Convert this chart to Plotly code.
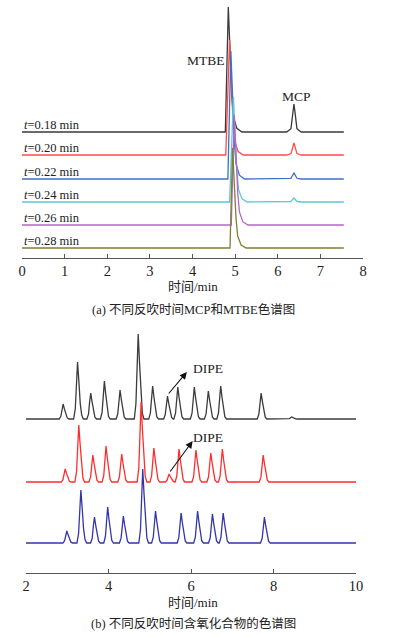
import plotly.graph_objects as go

FONT = "Liberation Serif, Times New Roman, Noto Sans CJK SC, serif"

# ---------------- (a) MCP / MTBE chromatograms ----------------
a_labels = ["0.18", "0.20", "0.22", "0.24", "0.26", "0.28"]
a_offsets = [116, 93, 69, 46, 23, 0]
a_colors = ["#3a3a3a", "#ff4a4a", "#3f6fc6", "#5cc8d8", "#b766c6", "#7f7f33"]
a_mtbe_start = [4.77, 4.78, 4.83, 4.87, 4.91, 4.88]
a_mtbe_apex = [4.84, 4.87, 4.90, 4.96, 4.98, 4.94]
a_mtbe_height = [125, 115, 128, 105, 110, 100]
a_mcp_time = [6.38, 6.38, 6.38, 6.38, 6.38, 6.38]
a_mcp_height = [28, 12, 6, 4, 0.6, 0]
a_x_end = 7.55
a_ticks = [0, 1, 2, 3, 4, 5, 6, 7, 8]

# ---------------- (b) oxygenates chromatograms ----------------
b_labels = ["0.26", "0.28", "0.30"]
b_offsets = [124, 61, 0]
b_colors = ["#3c3c3c", "#ff2d2d", "#3535a8"]
b_peak_t = [
    [2.90, 3.25, 3.57, 3.90, 4.28, 4.72, 5.07, 5.43, 5.68, 6.08, 6.42, 6.72, 7.70, 8.44],
    [2.95, 3.28, 3.62, 3.94, 4.32, 4.79, 5.10, 5.47, 5.71, 6.12, 6.48, 6.76, 7.75],
    [2.99, 3.33, 3.66, 3.98, 4.36, 4.83, 5.14, 5.76, 6.16, 6.52, 6.78, 7.78],
]
b_peak_h = [
    [15, 57, 26, 38, 29, 85, 33, 23, 32, 32, 28, 33, 26, 2],
    [13, 57, 27, 36, 28, 80, 34, 8, 33, 32, 29, 33, 27],
    [12, 53, 26, 36, 27, 74, 32, 30, 32, 29, 30, 26],
]
b_dipe_index = [7, 7]  # DIPE peak index in traces 0.26 and 0.28
b_x_start = 2.0
b_x_end = 10.0
b_ticks = [2, 4, 6, 8, 10]


def mtbe_peak(start, apex, h):
    dx = [0, 0.08, 0.12, 0.2, 0.32]
    fr = [1, 0.3, 0.12, 0.03, 0]
    xs = [start] + [apex + d for d in dx]
    ys = [0] + [h * f for f in fr]
    return xs, ys


def sym_peak(t, h):
    dx = [-0.17, -0.07, -0.025, 0, 0.025, 0.07, 0.17]
    fr = [0, 0.12, 0.7, 1, 0.7, 0.12, 0]
    return [t + d for d in dx], [h * f for f in fr]


def tail_peak2(t, h):
    dx = [-0.095, -0.055, -0.028, 0, 0.032, 0.065, 0.1, 0.14]
    fr = [0, 0.18, 0.65, 1, 0.66, 0.27, 0.07, 0]
    return [t + d for d in dx], [h * f for f in fr]


fig = go.Figure()

# (a) traces
for i in range(len(a_labels)):
    xs, ys = [0.0], [0.0]
    px, py = mtbe_peak(a_mtbe_start[i], a_mtbe_apex[i], a_mtbe_height[i])
    xs += px; ys += py
    if a_mcp_height[i] > 0:
        px, py = sym_peak(a_mcp_time[i], a_mcp_height[i])
        xs += px; ys += py
    xs.append(a_x_end); ys.append(0.0)
    fig.add_trace(go.Scatter(
        x=xs, y=[v + a_offsets[i] for v in ys], mode="lines",
        line=dict(color=a_colors[i], width=1.3), xaxis="x", yaxis="y",
        showlegend=False, hoverinfo="skip"))

# (b) traces
for i in range(len(b_labels)):
    xs, ys = [b_x_start], [0.0]
    for t, h in zip(b_peak_t[i], b_peak_h[i]):
        px, py = tail_peak2(t, h)
        xs += px; ys += py
    xs.append(b_x_end); ys.append(0.0)
    fig.add_trace(go.Scatter(
        x=xs, y=[v + b_offsets[i] for v in ys], mode="lines",
        line=dict(color=b_colors[i], width=1.3), xaxis="x2", yaxis="y2",
        showlegend=False, hoverinfo="skip"))

ann = []
# (a) labels
for i, lab in enumerate(a_labels):
    ann.append(dict(x=0, y=a_offsets[i], xref="x", yref="y", xanchor="left",
                    yanchor="bottom", yshift=-2, showarrow=False,
                    text="<i>t</i>=" + lab + " min",
                    font=dict(family=FONT, size=12.5, color="#222")))
ann.append(dict(x=4.32, y=188, xref="x", yref="y", text="MTBE", showarrow=False,
                xanchor="center", yanchor="middle",
                font=dict(family=FONT, size=13.5, color="#222")))
ann.append(dict(x=6.45, y=152, xref="x", yref="y", text="MCP", showarrow=False,
                xanchor="center", yanchor="middle",
                font=dict(family=FONT, size=13.5, color="#222")))

# (b) labels
for i, lab in enumerate(b_labels):
    ann.append(dict(x=10.17, y=b_offsets[i], xref="x2", yref="y2", xanchor="right",
                    yanchor="bottom", yshift=-2, showarrow=False,
                    text="<i>t</i>=" + lab + " min",
                    font=dict(family=FONT, size=12.5, color="#222")))

tips = [(5.90, 171), (6.04, 102)]
texts = [(6.41, 175), (6.41, 106)]
for k, idx in enumerate(b_dipe_index):
    tx = b_peak_t[k][idx]
    ty = b_peak_h[k][idx] + b_offsets[k] + 1
    ann.append(dict(x=tips[k][0], y=tips[k][1], xref="x2", yref="y2",
                    ax=tx, ay=ty, axref="x2", ayref="y2", text="",
                    showarrow=True, arrowhead=2, arrowsize=1.3, arrowwidth=1.1,
                    arrowcolor="#111", standoff=0, startstandoff=0))
    ann.append(dict(x=texts[k][0], y=texts[k][1], xref="x2", yref="y2",
                    text="DIPE", showarrow=False, xanchor="center", yanchor="middle",
                    font=dict(family=FONT, size=13.5, color="#222")))

# axis titles and captions
ann += [
    dict(x=0.49, y=1 - 287 / 637, xref="paper", yref="paper", text="时间/min",
         xanchor="center", yanchor="middle",
         showarrow=False, font=dict(family=FONT, size=13, color="#222")),
    dict(x=0.49, y=1 - 309 / 637, xref="paper", yref="paper",
         text="(a) 不同反吹时间MCP和MTBE色谱图", xanchor="center", yanchor="middle",
         showarrow=False, font=dict(family=FONT, size=12.5, color="#222")),
    dict(x=0.49, y=1 - 602 / 637, xref="paper", yref="paper", text="时间/min",
         xanchor="center", yanchor="middle",
         showarrow=False, font=dict(family=FONT, size=13, color="#222")),
    dict(x=0.49, y=1 - 623 / 637, xref="paper", yref="paper",
         text="(b) 不同反吹时间含氧化合物的色谱图", xanchor="center", yanchor="middle",
         showarrow=False, font=dict(family=FONT, size=12.5, color="#222")),
]

axis_common = dict(showgrid=False, zeroline=False, showline=True, linecolor="#555",
                   linewidth=1, ticks="inside", ticklen=4, tickcolor="#555",
                   tickfont=dict(family=FONT, size=14.5, color="#222"), fixedrange=True,
                   automargin=False)

fig.update_layout(
    width=394, height=637,
    autosize=False,
    margin=dict(l=0, r=0, t=0, b=0, pad=0, autoexpand=False),
    paper_bgcolor="white", plot_bgcolor="white",
    xaxis=dict(domain=[22 / 394, 363 / 394], range=[0, 8], tickvals=a_ticks,
               anchor="y", **axis_common),
    yaxis=dict(domain=[1 - 258 / 637, 1 - 5 / 637], range=[-10, 243], visible=False,
               anchor="x"),
    xaxis2=dict(domain=[26 / 394, 356 / 394], range=[2, 10], tickvals=b_ticks,
                anchor="y2", **axis_common),
    yaxis2=dict(domain=[1 - 573 / 637, 1 - 320 / 637], range=[-30, 223], visible=False,
                anchor="x2"),
    annotations=ann,
)

fig.write_html(
    "out.html",
    config={"responsive": False, "displayModeBar": False},
    post_script="document.body.style.margin='0';document.body.style.overflow='hidden';",
)
